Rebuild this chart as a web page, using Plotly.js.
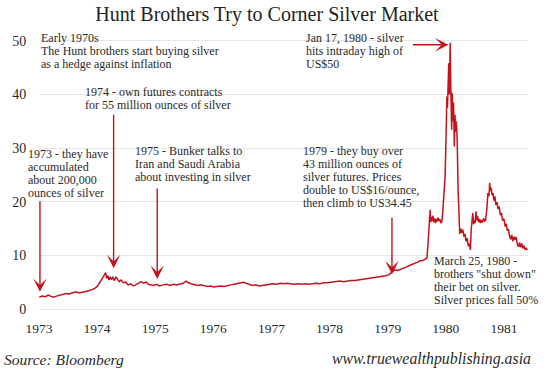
<!DOCTYPE html>
<html>
<head>
<meta charset="utf-8">
<script src="https://cdn.plot.ly/plotly-3.0.1.min.js"></script>
<style>html,body{margin:0;padding:0;background:#fff;}#chart{width:549px;height:375px;}</style>
</head>
<body>
<div id="chart"></div>
<script>
// ---- Data: silver price (US$/oz) ----
const dates = [
 '1973-01-03','1973-01-20','1973-02-10','1973-02-28','1973-03-15','1973-04-01','1973-04-20','1973-05-10','1973-05-30','1973-06-20',
 '1973-07-10','1973-07-30','1973-08-20','1973-09-10','1973-09-30','1973-10-20','1973-11-10','1973-11-30','1973-12-20','1974-01-05',
 '1974-01-20','1974-02-05','1974-02-15','1974-02-24','1974-03-02','1974-03-10','1974-03-17','1974-03-25','1974-04-01','1974-04-10',
 '1974-04-20','1974-04-30','1974-05-10','1974-05-20','1974-06-01','1974-06-15','1974-07-01','1974-07-15','1974-08-01','1974-08-15',
 '1974-09-01','1974-09-20','1974-10-05','1974-10-20','1974-11-05','1974-11-20','1974-12-05','1974-12-20','1975-01-08','1975-01-28',
 '1975-02-20','1975-03-15','1975-04-05','1975-04-25','1975-05-15','1975-06-05','1975-06-25','1975-07-14','1975-07-28','1975-08-15',
 '1975-09-05','1975-09-25','1975-10-15','1975-11-05','1975-11-25','1975-12-15','1976-01-05','1976-01-25','1976-02-15','1976-03-10',
 '1976-04-01','1976-04-20','1976-05-10','1976-06-01','1976-06-20','1976-07-10','1976-07-25','1976-08-15','1976-09-05','1976-09-25',
 '1976-10-15','1976-11-05','1976-11-25','1976-12-15','1977-01-10','1977-02-01','1977-02-25','1977-03-20','1977-04-10','1977-05-01',
 '1977-05-25','1977-06-15','1977-07-10','1977-08-01','1977-08-25','1977-09-15','1977-10-10','1977-11-01','1977-11-25','1977-12-20',
 '1978-01-15','1978-02-10','1978-03-05','1978-03-30','1978-04-20','1978-05-15','1978-06-10','1978-07-01','1978-07-25','1978-08-15',
 '1978-09-05','1978-09-30','1978-10-20','1978-11-10','1978-12-01','1978-12-20','1979-01-10','1979-01-28','1979-02-15','1979-03-05',
 '1979-03-25','1979-04-15','1979-05-05','1979-05-25','1979-06-15','1979-07-05','1979-07-25','1979-08-15','1979-08-30','1979-09-05',
 '1979-09-12','1979-09-19','1979-09-25','1979-09-29','1979-10-03','1979-10-08','1979-10-13','1979-10-18','1979-10-23','1979-10-29',
 '1979-11-03','1979-11-08','1979-11-14','1979-11-20','1979-11-26','1979-12-02','1979-12-08','1979-12-13','1979-12-18','1979-12-23',
 '1979-12-28','1980-01-03','1980-01-08','1980-01-12','1980-01-15','1980-01-20','1980-01-24','1980-01-29','1980-02-03','1980-02-07',
 '1980-02-11','1980-02-15','1980-02-19','1980-02-24','1980-02-28','1980-03-04','1980-03-08','1980-03-13','1980-03-19','1980-03-24',
 '1980-03-29','1980-04-04','1980-04-10','1980-04-17','1980-04-24','1980-05-01','1980-05-08','1980-05-15','1980-05-22','1980-05-29',
 '1980-06-04','1980-06-09','1980-06-14','1980-06-19','1980-06-24','1980-06-29','1980-07-04','1980-07-09','1980-07-14','1980-07-19',
 '1980-07-25','1980-07-31','1980-08-06','1980-08-12','1980-08-19','1980-08-26','1980-09-02','1980-09-08','1980-09-15','1980-09-22',
 '1980-09-29','1980-10-03','1980-10-08','1980-10-13','1980-10-18','1980-10-24','1980-10-30','1980-11-05','1980-11-11','1980-11-18',
 '1980-11-25','1980-12-02','1980-12-09','1980-12-16','1980-12-23','1981-01-01','1981-01-08','1981-01-15','1981-01-22','1981-01-29',
 '1981-02-05','1981-02-12','1981-02-19','1981-02-26','1981-03-05','1981-03-12','1981-03-19','1981-03-26','1981-04-02','1981-04-09',
 '1981-04-16','1981-04-23','1981-04-30','1981-05-07','1981-05-14','1981-05-21','1981-05-28'
];
const prices = [
 2.2,2.4,2.3,2.6,2.4,2.2,2.4,2.6,2.7,2.9,
 2.8,3.0,3.2,3.0,3.1,3.2,3.4,3.6,3.9,4.3,
 5.0,5.6,6.3,6.8,5.7,6.2,5.4,6.0,5.5,5.9,
 5.3,6.0,5.5,5.1,5.4,4.9,5.0,4.5,4.7,4.3,
 4.5,4.8,5.1,4.8,5.0,4.6,4.5,4.4,4.6,4.3,
 4.5,4.6,4.4,4.6,4.5,4.7,4.8,5.2,4.9,4.7,
 4.5,4.4,4.5,4.3,4.2,4.3,4.1,4.2,4.3,4.2,
 4.4,4.5,4.6,4.7,4.8,5.0,4.8,4.6,4.4,4.5,
 4.3,4.4,4.5,4.6,4.7,4.6,4.8,4.7,4.8,4.7,
 4.6,4.7,4.6,4.7,4.6,4.7,4.8,4.7,4.9,4.9,
 5.0,5.0,5.2,5.1,5.2,5.3,5.3,5.4,5.5,5.5,
 5.7,5.8,5.9,6.0,6.0,6.2,6.4,6.8,7.3,7.2,
 7.4,7.6,7.9,8.2,8.4,8.7,9.0,9.1,9.4,9.5,
 12.3,16.0,18.5,16.2,17.2,16.4,17.4,16.2,16.9,16.0,
 16.8,16.3,17.0,16.4,16.7,16.0,16.3,18.0,19.7,22.0,
 24.7,32.0,39.6,37.5,42.0,45.8,40.0,49.6,39.6,33.4,
 40.2,35.0,38.5,30.3,36.2,33.0,35.0,31.5,22.0,15.4,
 14.0,15.0,14.2,14.8,13.5,14.0,12.6,13.2,11.7,12.2,
 11.0,14.8,16.0,17.9,15.8,16.5,16.0,18.2,16.5,17.3,
 16.2,16.8,16.0,16.6,16.1,16.9,16.4,16.6,18.5,21.6,
 21.0,23.5,22.0,22.6,21.2,21.6,20.2,21.0,19.4,19.9,
 18.6,19.1,17.5,17.9,16.5,16.8,15.4,15.9,14.6,14.9,
 13.6,13.0,13.8,12.6,13.5,12.9,13.4,12.0,11.6,12.4,
 11.5,12.2,11.3,11.8,11.1,11.3,11.0
];
const yTicks = [0,10,20,30,40,50];
const titleText = 'Hunt Brothers Try to Corner Silver Market';
const noteEarly = ['Early 1970s','The Hunt brothers start buying silver','as a hedge against inflation'];
const note1974 = ['1974 - own futures contracts','for 55 million ounces of silver'];
const note1973 = ['1973 - they have','accumulated','about 200,000','ounces of silver'];
const note1975 = ['1975 - Bunker talks to','Iran and Saudi Arabia','about investing in silver'];
const note1979 = ['1979 - they buy over','43 million ounces of','silver futures. Prices','double to US$16/ounce,','then climb to US34.45'];
const noteJan = ['Jan 17, 1980 - silver','hits intraday high of','US$50'];
const noteMar = ['March 25, 1980 -','brothers "shut down"','their bet on silver.','Silver prices fall 50%'];
const sourceText = 'Source: Bloomberg';
const siteText = 'www.truewealthpublishing.asia';

// ---- Layout helpers ----
const W = 549, H = 375, ML = 39, MR = 21, MT = 30, MB = 66;
const PW = W - ML - MR, PH = H - MT - MB;
const FONT = 'Liberation Serif, Times New Roman, serif';
const RED = '#c3141c';
const TXT = '#2a2a2a';
const GAP = 13;
function px(x){ return (x - ML) / PW; }
function py(y){ return (H - MB - y) / PH; }

const annotations = [];
function addNote(lines, left, top){
  lines.forEach((t, i) => annotations.push({
    xref:'paper', yref:'paper', x:px(left), y:py(top + i*GAP),
    xanchor:'left', yanchor:'middle', showarrow:false, borderpad:0,
    text:t, font:{family:FONT, size:12, color:TXT}
  }));
}
addNote(noteEarly, 40, 38);
addNote(note1974, 84, 92);
addNote(note1973, 27, 154);
addNote(note1975, 134, 151);
addNote(note1979, 302, 151);
addNote(noteJan, 305, 38);
addNote(noteMar, 433, 261);

function addArrow(x, y, ax, ay){
  annotations.push({xref:'x', yref:'y', x:x, y:y, ax:ax, ay:ay, axref:'pixel', ayref:'pixel',
    text:'', showarrow:true, arrowhead:3, arrowsize:1.6, arrowwidth:1.4, arrowcolor:RED, standoff:0});
}
addArrow('1973-01-07', 3.2, 0, -92);
addArrow('1974-04-15', 7.6, 0, -155);
addArrow('1975-01-14', 5.6, 0, -92);
addArrow('1979-01-28', 6.5, 0, -58);
addArrow('1980-01-18', 49.25, -37, 0);

annotations.push({xref:'paper', yref:'paper', x:px(3), y:py(359), xanchor:'left', yanchor:'middle',
  showarrow:false, borderpad:0, text:'<i>'+sourceText+'</i>', font:{family:FONT, size:15.5, color:TXT}});
annotations.push({xref:'paper', yref:'paper', x:px(532), y:py(359), xanchor:'right', yanchor:'middle',
  showarrow:false, borderpad:0, text:'<i>'+siteText+'</i>', font:{family:FONT, size:15.8, color:TXT}});

const trace = {
  x: dates, y: prices, type:'scatter', mode:'lines',
  line:{color:RED, width:1.5}, hoverinfo:'skip'
};

const layout = {
  width:W, height:H,
  margin:{l:ML, r:MR, t:MT, b:MB, pad:0},
  paper_bgcolor:'#fff', plot_bgcolor:'#fff',
  showlegend:false,
  title:{text:titleText, x:267/W, xref:'container', xanchor:'center', y:1-14/H, yref:'container', yanchor:'middle',
    font:{family:FONT, size:20, color:'#222'}},
  xaxis:{type:'date', range:['1973-01-01','1981-06-01'], tick0:'1973-01-01', dtick:'M12', tickformat:'%Y',
    showgrid:false, zeroline:false, showline:false, ticks:'outside', ticklen:7, tickcolor:'rgba(0,0,0,0)',
    tickfont:{family:FONT, size:13.5, color:TXT}, fixedrange:true},
  yaxis:{range:[0,52], tickvals:yTicks, ticktext:yTicks.map(String), showgrid:true, gridcolor:'#e6e6e6', gridwidth:1,
    zeroline:true, zerolinecolor:'#e6e6e6', zerolinewidth:1, showline:false,
    ticks:'outside', ticklen:9, tickcolor:'rgba(0,0,0,0)',
    tickfont:{family:FONT, size:14, color:TXT}, fixedrange:true},
  annotations: annotations
};

Plotly.newPlot('chart', [trace], layout, {displayModeBar:false, staticPlot:true});
</script>
</body>
</html>
